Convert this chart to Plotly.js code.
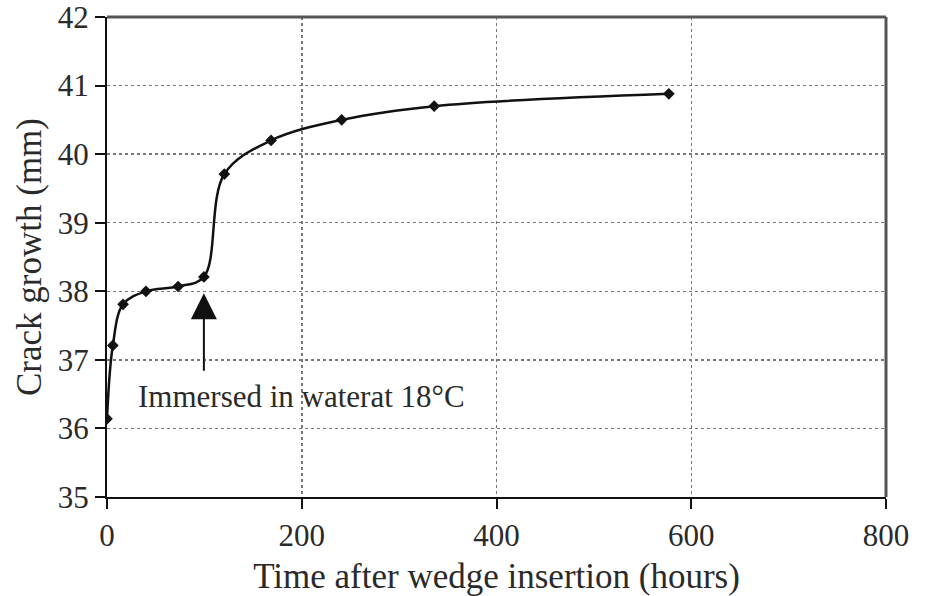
<!DOCTYPE html>
<html>
<head>
<meta charset="utf-8">
<script src="https://cdn.plot.ly/plotly-3.0.1.min.js"></script>
<style>html,body{margin:0;padding:0;background:#fff;}#chart{width:926px;height:596px;}</style>
</head>
<body>
<div id="chart"></div>
<script>
const hours = [0, 6, 16.5, 40, 73, 99.5, 120.5, 168.5, 241, 336, 577];
const crackGrowth = [36.14, 37.21, 37.81, 38.0, 38.07, 38.21, 39.71, 40.2, 40.5, 40.7, 40.88];
const xTicks = [0, 200, 400, 600, 800];
const yTicks = [35, 36, 37, 38, 39, 40, 41, 42];
const arrowTail = [99.5, 36.82];
const arrowTip = [99.5, 37.97];
const noteText = 'Immersed in waterat 18°C';
const notePos = [200, 36.47];

const fontFam = 'Liberation Serif, Times New Roman, serif';
const textCol = '#2a2a2a';

const trace = {
  x: hours, y: crackGrowth,
  mode: 'lines+markers', type: 'scatter',
  line: {color: '#111', width: 2.5, shape: 'spline', smoothing: 1},
  marker: {symbol: 'diamond', size: 9, color: '#111'},
  hoverinfo: 'skip'
};

const layout = {
  width: 926, height: 596,
  margin: {l: 107, r: 40, t: 17, b: 99},
  paper_bgcolor: '#fff', plot_bgcolor: '#fff',
  showlegend: false,
  font: {family: fontFam, color: textCol, size: 31},
  xaxis: {
    range: [0, 800], tickvals: xTicks, ticktext: xTicks.map(String),
    showgrid: true, gridcolor: '#777', gridwidth: 1.5, griddash: 'dot',
    zeroline: false, showline: true, linecolor: '#111', linewidth: 2,
    ticks: 'outside', ticklen: 10, tickwidth: 2, tickcolor: '#111',
    tickfont: {family: fontFam, size: 31, color: textCol},
    ticklabeloverflow: 'allow',
    title: {text: 'Time after wedge insertion (hours)', font: {family: fontFam, size: 35, color: textCol}, standoff: 13},
    automargin: false
  },
  yaxis: {
    range: [35, 42], tickvals: yTicks, ticktext: yTicks.map(String),
    showgrid: true, gridcolor: '#777', gridwidth: 1.5, griddash: 'dot',
    zeroline: false, showline: true, linecolor: '#111', linewidth: 2,
    ticks: 'outside', ticklen: 10, tickwidth: 2, tickcolor: '#111',
    tickfont: {family: fontFam, size: 31, color: textCol},
    ticklabeloverflow: 'allow',
    title: {text: 'Crack growth (mm)', font: {family: fontFam, size: 35, color: textCol}, standoff: 6},
    automargin: false
  },
  shapes: [
    {type: 'line', xref: 'paper', yref: 'paper', x0: 0, x1: 1, y0: 1, y1: 1, line: {color: '#555', width: 3}},
    {type: 'line', xref: 'paper', yref: 'paper', x0: 1, x1: 1, y0: 0, y1: 1, line: {color: '#555', width: 3}}
  ],
  annotations: [
    {x: arrowTip[0], y: arrowTip[1], ax: arrowTail[0], ay: arrowTail[1], axref: 'x', ayref: 'y',
     xref: 'x', yref: 'y', text: '', showarrow: true, arrowhead: 2, arrowsize: 2.6, arrowwidth: 2,
     arrowcolor: '#111', standoff: 0, startstandoff: 0},
    {x: notePos[0], y: notePos[1], xref: 'x', yref: 'y', text: noteText, showarrow: false,
     font: {family: fontFam, size: 31, color: textCol}, xanchor: 'center', yanchor: 'middle'}
  ]
};

Plotly.newPlot('chart', [trace], layout, {displayModeBar: false, staticPlot: true});
</script>
</body>
</html>
